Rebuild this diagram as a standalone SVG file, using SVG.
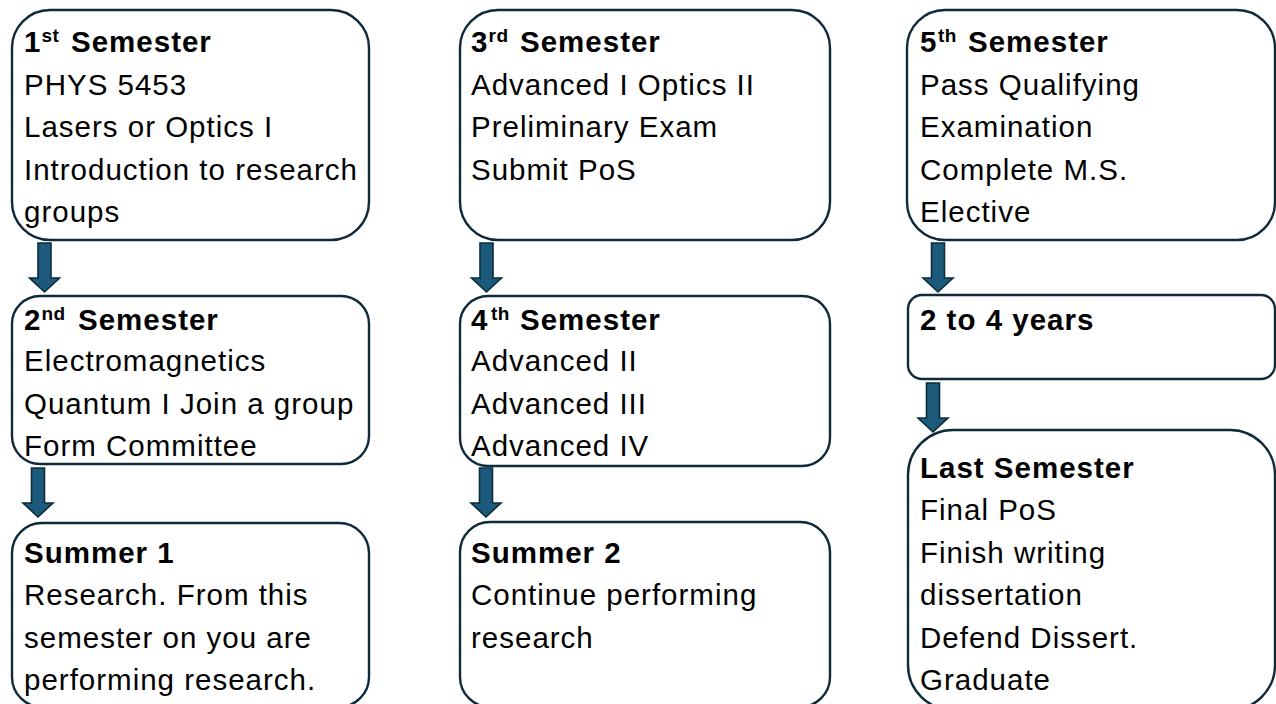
<svg xmlns="http://www.w3.org/2000/svg" width="1276" height="704" viewBox="0 0 1276 704">
<style>
.box{fill:#ffffff;stroke:#0f2b3b;stroke-width:2.4}
.arr{fill:#1b5a7a;stroke:#0c2c3c;stroke-width:1.6;stroke-linejoin:miter}
text{font-family:"Liberation Sans",Arial,sans-serif;font-size:29.5px;letter-spacing:1px;fill:#000000}
.b{font-weight:bold}
.sup{font-size:19px;font-weight:bold;letter-spacing:0.5px}
</style>
<rect width="1276" height="704" fill="#ffffff"/>
<g id="connectors">
<polygon class="arr" points="38,243 51,243 51,278 59.5,278 44.5,292 29.5,278 38,278"/>
<polygon class="arr" points="31.5,468 44.5,468 44.5,503 53,503 38,517 23,503 31.5,503"/>
<polygon class="arr" points="480,243 493,243 493,278 501.5,278 486.5,292 471.5,278 480,278"/>
<polygon class="arr" points="479.5,468 492.5,468 492.5,503 501,503 486,517 471,503 479.5,503"/>
<polygon class="arr" points="931.5,243 944.5,243 944.5,278 953,278 938,292 923,278 931.5,278"/>
<polygon class="arr" points="926.5,383 939.5,383 939.5,418 948,418 933,432 918,418 926.5,418"/>
</g>
<g id="sem1">
<rect class="box" x="12" y="10" width="357" height="230" rx="38"/>
<text x="24" y="52" class="b">1<tspan class="sup" x="41.5" dy="-10">st</tspan><tspan x="71" dy="10">Semester</tspan></text>
<text x="24" y="94.5">PHYS 5453</text>
<text x="24" y="137">Lasers or Optics I</text>
<text x="24" y="179.5">Introduction to research</text>
<text x="24" y="222">groups</text>
</g>
<g id="sem2">
<rect class="box" x="12" y="296" width="357" height="168" rx="28"/>
<text x="24" y="330" class="b">2<tspan class="sup" x="41.5" dy="-10">nd</tspan><tspan x="78" dy="10">Semester</tspan></text>
<text x="24" y="371">Electromagnetics</text>
<text x="24" y="413.5">Quantum I Join a group</text>
<text x="24" y="456">Form Committee</text>
</g>
<g id="summer1">
<rect class="box" x="12" y="523" width="357" height="184" rx="30"/>
<text x="24" y="563" class="b">Summer 1</text>
<text x="24" y="605">Research. From this</text>
<text x="24" y="648">semester on you are</text>
<text x="24" y="690">performing research.</text>
</g>
<g id="sem3">
<rect class="box" x="460" y="10" width="370" height="230" rx="38"/>
<text x="471" y="52" class="b">3<tspan class="sup" x="488.5" dy="-10">rd</tspan><tspan x="520" dy="10">Semester</tspan></text>
<text x="471" y="94.5">Advanced I Optics II</text>
<text x="471" y="137">Preliminary Exam</text>
<text x="471" y="179.5">Submit PoS</text>
</g>
<g id="sem4">
<rect class="box" x="460" y="296" width="370" height="170" rx="28"/>
<text x="471" y="330" class="b">4<tspan class="sup" x="491" dy="-10">th</tspan><tspan x="520" dy="10">Semester</tspan></text>
<text x="471" y="371">Advanced II</text>
<text x="471" y="413.5">Advanced III</text>
<text x="471" y="456">Advanced IV</text>
</g>
<g id="summer2">
<rect class="box" x="460" y="522" width="370" height="185" rx="30"/>
<text x="471" y="563" class="b">Summer 2</text>
<text x="471" y="605">Continue performing</text>
<text x="471" y="648">research</text>
</g>
<g id="sem5">
<rect class="box" x="907" y="10" width="368" height="230" rx="38"/>
<text x="920" y="52" class="b">5<tspan class="sup" x="938" dy="-10">th</tspan><tspan x="968" dy="10">Semester</tspan></text>
<text x="920" y="94.5">Pass Qualifying</text>
<text x="920" y="137">Examination</text>
<text x="920" y="179.5">Complete M.S.</text>
<text x="920" y="222">Elective</text>
</g>
<g id="years">
<rect class="box" x="908" y="295" width="367" height="84" rx="14"/>
<text x="920" y="330" class="b">2 to 4 years</text>
</g>
<g id="lastsem">
<rect class="box" x="908" y="430" width="367" height="280" rx="45"/>
<text x="920" y="478" class="b">Last Semester</text>
<text x="920" y="520">Final PoS</text>
<text x="920" y="563">Finish writing</text>
<text x="920" y="605">dissertation</text>
<text x="920" y="648">Defend Dissert.</text>
<text x="920" y="690">Graduate</text>
</g>
</svg>
